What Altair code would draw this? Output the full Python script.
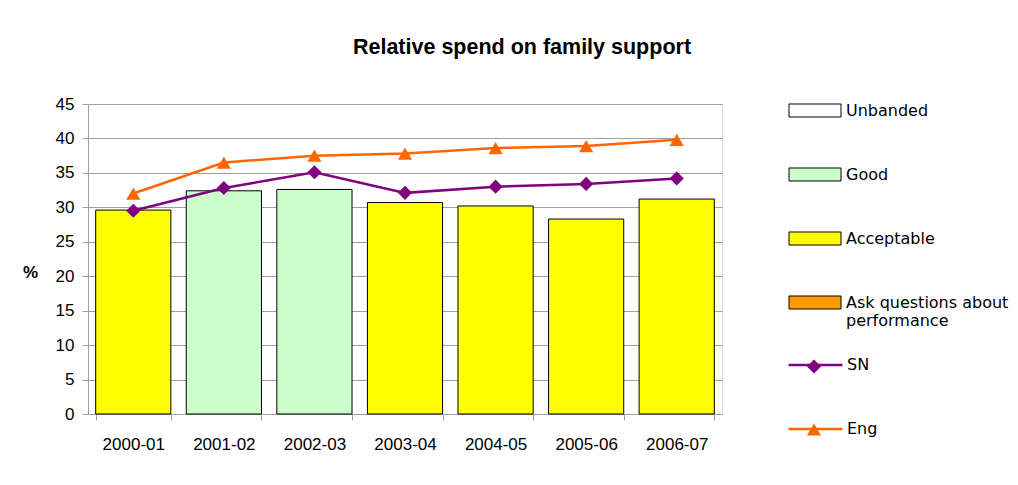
import altair as alt
import pandas as pd

years = ["2000-01", "2001-02", "2002-03", "2003-04", "2004-05", "2005-06", "2006-07"]
spend = [29.6, 32.4, 32.6, 30.7, 30.2, 28.3, 31.2]
band = ["Acceptable", "Good", "Good", "Acceptable", "Acceptable", "Acceptable", "Acceptable"]
sn = [29.5, 32.8, 35.1, 32.1, 33.0, 33.4, 34.2]
eng = [32.0, 36.5, 37.5, 37.8, 38.6, 38.9, 39.8]

band_names = ["Unbanded", "Good", "Acceptable", "Ask questions about performance"]
band_colors = ["#FFFFFF", "#CCFFCC", "#FFFF00", "#FF9900"]
series_names = ["SN", "Eng"]
series_colors = ["#800080", "#FF6600"]
series_shapes = ["diamond", "triangle-up"]
y_ticks = [0, 5, 10, 15, 20, 25, 30, 35, 40, 45]

bars_df = pd.DataFrame({"year": years, "spend": spend, "band": band})
lines_df = pd.DataFrame({
    "year": years + years,
    "value": sn + eng,
    "series": ["SN"] * len(years) + ["Eng"] * len(years),
})

RECT_PATH = "M-1,-0.93H6.43V0.93H-1Z"
LINE_PATH = "M-1.14,0H6.57"

GREY = "#a0a0a0"
AXFONT = "Liberation Sans"
LGFONT = "DejaVu Sans"
ASK = "Ask questions about performance"

xscale = alt.Scale(paddingInner=0.17, paddingOuter=0.085)
yscale = alt.Scale(domain=[0, 45], nice=False)

x_axis = alt.Axis(title=None, labelAngle=0, tickBand="extent", tickSize=6,
                  labelPadding=16, labelFontSize=17, labelFont=AXFONT,
                  labelColor="black", domainColor=GREY, tickColor=GREY, grid=False)
y_axis = alt.Axis(values=y_ticks, title="%", titleAngle=0, titleX=-58, titleY=168,
                  titleAlign="center", titleBaseline="middle",
                  titleFont=AXFONT, titleFontSize=17, titleFontWeight="bold",
                  titleColor="black", tickSize=6, labelPadding=8, labelOverlap=False,
                  labelFontSize=17, labelFont=AXFONT, labelColor="black",
                  domainColor=GREY, tickColor=GREY, gridColor=GREY, grid=True)

X = alt.X("year:N", sort=years, scale=xscale, axis=x_axis)

bars = alt.Chart(bars_df).mark_bar(stroke="black", strokeWidth=1).encode(
    x=X,
    y=alt.Y("spend:Q", scale=yscale, axis=y_axis),
    fill=alt.Fill("band:N", scale=alt.Scale(domain=band_names, range=band_colors),
                  legend=alt.Legend(
                      title=None, orient="none", legendX=700, legendY=-1.5, padding=0,
                      symbolType=RECT_PATH, symbolSize=196, symbolStrokeColor="black",
                      symbolStrokeWidth=1, labelFont=LGFONT, labelFontSize=16,
                      labelColor="black", labelOffset=42, rowPadding=46, labelLimit=400,
                      labelExpr=f"datum.label == '{ASK}' ? ['Ask questions about', 'performance'] : datum.label",
                  )),
)

lines = alt.Chart(lines_df).mark_line(strokeWidth=2.5).encode(
    x=X,
    y=alt.Y("value:Q", scale=yscale, axis=y_axis),
    stroke=alt.Stroke("series:N", sort=series_names, scale=alt.Scale(range=series_colors),
                      legend=alt.Legend(
                          title=None, orient="none", legendX=700, legendY=252.5, padding=0,
                          symbolType=LINE_PATH, symbolSize=196, symbolStrokeWidth=2.5,
                          labelFont=LGFONT, labelFontSize=16, labelColor="black",
                          labelOffset=42, rowPadding=47)),
)

MLEG = alt.Legend(title=None, orient="none", legendX=718, legendY=254.5, padding=0,
                  symbolSize=200, labelExpr="''", labelFontSize=16, rowPadding=47)

points = alt.Chart(lines_df).mark_point(filled=True, size=200, opacity=1).encode(
    x=X,
    y=alt.Y("value:Q", scale=yscale, axis=y_axis),
    color=alt.Color("series:N", scale=alt.Scale(domain=series_names, range=series_colors), legend=MLEG),
    shape=alt.Shape("series:N", scale=alt.Scale(domain=series_names, range=series_shapes), legend=MLEG),
)

chart = alt.layer(bars, lines, points).properties(
    width=634, height=310,
    title=alt.TitleParams("Relative spend on family support", font=AXFONT, fontSize=21.5,
                          fontWeight="bold", anchor="middle", dx=117, offset=37,
                          frame="group", color="black"),
    padding={"left": 80, "top": 96, "right": 288, "bottom": 63},
    autosize="none",
).configure_view(stroke=GREY, strokeWidth=1).configure(background="white")

chart.save("out.html", embed_options={"renderer": "svg", "actions": False})
